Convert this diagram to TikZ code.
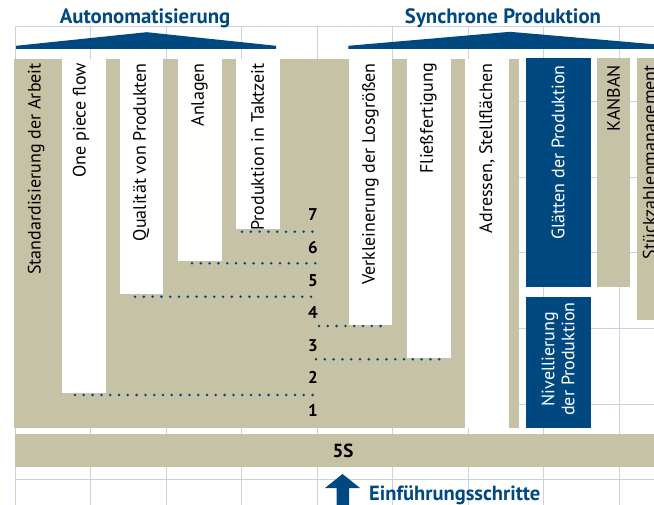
\documentclass[tikz,border=0pt]{standalone}
\usepackage{fontspec}
\setmainfont{PT Sans}
\definecolor{tanc}{RGB}{197,194,166}
\definecolor{dblue}{RGB}{0,72,128}
\definecolor{gridc}{RGB}{205,208,228}
\begin{document}
\begin{tikzpicture}[x=1pt,y=-1pt,
  coltext/.style={rotate=90, anchor=east, font=\fontsize{18}{20}\selectfont, inner sep=0pt},
  wtext/.style={coltext, text=white},
  num/.style={font=\bfseries\fontsize{17}{18}\selectfont, inner sep=0pt},
  title/.style={font=\bfseries\fontsize{20.8}{22}\selectfont, text=dblue, inner sep=0pt, anchor=base},
  dotline/.style={dblue, line width=2.8pt, line cap=round, dash pattern=on 0pt off 8.8pt},
  gridline/.style={gridc, line width=1pt},
  slotbox/.style={fill=white},
  tanbox/.style={fill=tanc},
  bluebox/.style={fill=dblue}]
\useasboundingbox (0,0) rectangle (654,505);
\clip (0,0) rectangle (654,505);
% grid
\foreach \x in {15,90.7,166.2,241.6,317,392.5,468,543.4,619}
  \draw[gridline] (\x,26.5) -- (\x,506);
\foreach \y in {26.5,102,177.5,253,328.5,404,479.5}
  \draw[gridline] (15,\y) -- (655,\y);
% roofs
\fill[dblue] (16,45.8) -- (146.7,32.2) -- (276,45.8) -- (276,48.8) -- (16,48.8) -- cycle;
\fill[dblue] (348.3,45.8) -- (510,31.8) -- (672,45.8) -- (672,48.8) -- (348.3,48.8) -- cycle;
\node[title] (t1) at (145,23.3) {Autonomatisierung};
\node[title] (t2) at (503,23.3) {Synchrone Produktion};
% main block
\fill[white] (14,59) rectangle (519,428);
\fill[tanbox] (14,59) rectangle (465,428);
\fill[slotbox] (62,59) rectangle (105.5,393);
\fill[slotbox] (120,59) rectangle (163.3,294);
\fill[slotbox] (177.7,59) rectangle (221.5,261);
\fill[slotbox] (235.7,59) rectangle (280,229.5);
\fill[slotbox] (349,59) rectangle (392.3,325);
\fill[slotbox] (406.7,59) rectangle (450.7,357.7);
\fill[tanbox] (509,59) rectangle (519,428);
\fill[bluebox] (525.5,58.5) rectangle (590.7,287.3);
\fill[bluebox] (525.5,296.7) rectangle (590.7,427.7);
\fill[tanbox] (597.3,58.5) rectangle (630,287.3);
\fill[tanbox] (636.7,58.5) rectangle (700,320);
% column texts
\node[coltext] (c1) at (36,63) {Standardisierung der Arbeit};
\node[coltext] (c2) at (81,63) {One piece flow};
\node[coltext] (c3) at (141,63) {Qualität von Produkten};
\node[coltext] (c4) at (199.5,63) {Anlagen};
\node[coltext] (c5) at (257.5,63) {Produktion in Taktzeit};
\node[coltext] (c6) at (370.5,63) {Verkleinerung der Losgrößen};
\node[coltext] (c7) at (428.5,63) {Fließfertigung};
\node[coltext] (c8) at (487,63) {Adressen, Stellflächen};
\node[wtext] (c9) at (558,65) {Glätten der Produktion};
\node[coltext] (c10) at (613.5,65) {KANBAN};
\node[coltext] (c11) at (651,65) {Stückzahlenmanagement};
\node[rotate=90, text=white, align=center, inner sep=0pt,
  font=\fontsize{18}{20}\selectfont] (c12) at (558,359) {Nivellierung\\der Produktion};
% step numbers
\node[num] (n7) at (313,215) {7};
\node[num] (n6) at (313,247.7) {6};
\node[num] (n5) at (313,280.3) {5};
\node[num] (n4) at (313,312.7) {4};
\node[num] (n3) at (313,345.3) {3};
\node[num] (n2) at (313,377.7) {2};
\node[num] (n1) at (313,410.3) {1};
% dotted lines
\draw[dotline] (242,231.7) -- (317,231.7);
\draw[dotline] (192,263.3) -- (317,263.3);
\draw[dotline] (135,296.7) -- (317,296.7);
\draw[dotline] (75,395) -- (317,395);
\draw[dotline] (319,326) -- (381,326);
\draw[dotline] (316,359.3) -- (442,359.3);
% 5S bar
\fill[tanbox] (15,434) rectangle (700,466.7);
\node[font=\bfseries\fontsize{19}{20}\selectfont, inner sep=0pt] (s5) at (343,451) {5S};
% arrow
\fill[dblue] (342.5,474) -- (360,488) -- (349,488) -- (349,506) -- (336.5,506) -- (336.5,488) -- (325,488) -- cycle;
\node[font=\bfseries\fontsize{20.5}{22}\selectfont, text=dblue, anchor=base west, inner sep=0pt] (ef) at (369,500) {Einführungsschritte};
\end{tikzpicture}
\end{document}
